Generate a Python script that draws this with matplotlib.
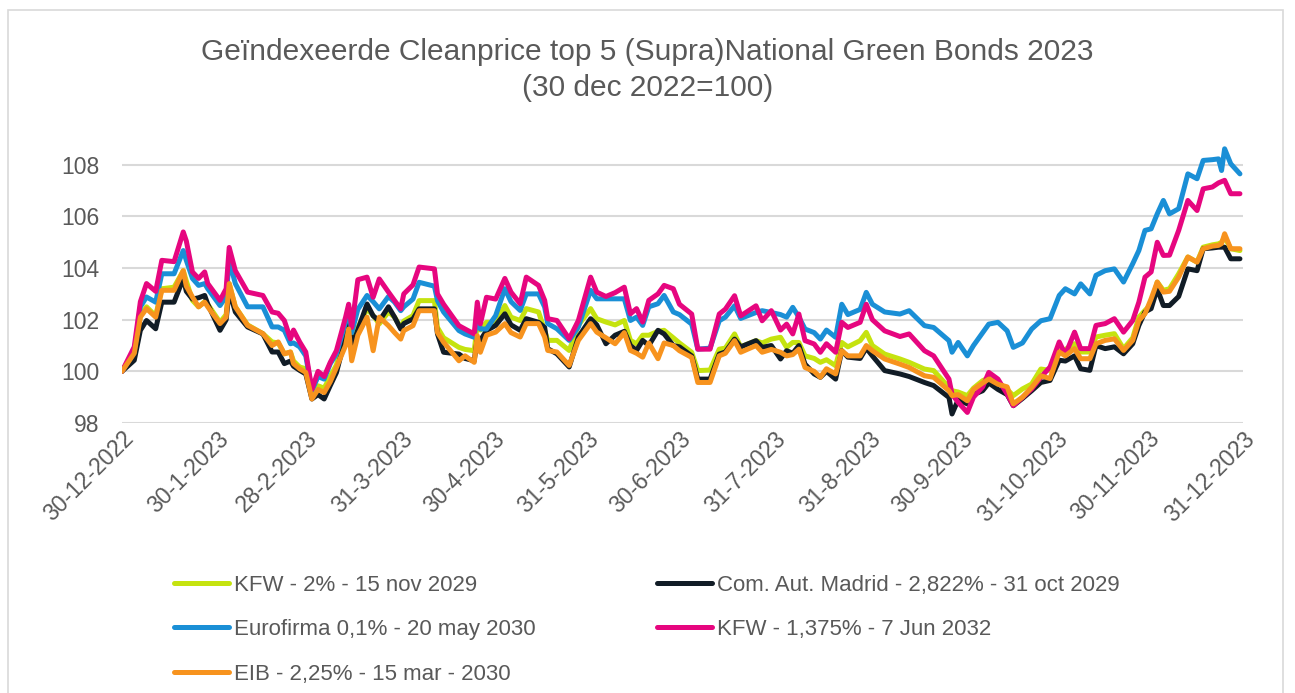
import numpy as np
import matplotlib
matplotlib.use("Agg")
import matplotlib.pyplot as plt
from matplotlib.patches import Rectangle

plt.rcParams['font.family'] = ['Liberation Sans', 'DejaVu Sans']

# day offsets from 30-12-2022 (index date = 100)
days = [0, 4, 6, 8, 11, 13, 17, 20, 21, 23,
        25, 27, 28, 32, 34, 35, 37, 41, 46, 49,
        51, 53, 55, 56, 58, 60, 62, 64, 66, 68,
        70, 73, 74, 75, 77, 80, 82, 84, 87, 89,
        91, 92, 95, 97, 102, 103, 105, 110, 112, 115,
        116, 117, 119, 122, 125, 127, 130, 132, 136, 138,
        139, 142, 146, 149, 153, 155, 158, 161, 164, 166,
        168, 170, 172, 175, 177, 180, 182, 186, 188, 192,
        195, 197, 200, 202, 207, 209, 212, 215, 217, 219,
        221, 223, 226, 228, 230, 233, 235, 237, 241, 243,
        245, 249, 254, 257, 262, 265, 270, 271, 273, 276,
        278, 281, 283, 286, 289, 291, 294, 297, 300, 303,
        306, 308, 311, 313, 316, 318, 321, 324, 327, 330,
        332, 334, 336, 338, 340, 342, 345, 348, 351, 353,
        356, 358, 359, 360, 362, 365]

kfw_2 = [100.0, 100.75, 102.15, 102.5, 102.15, 103.2, 103.26, 103.9, 103.5, 102.75,
         102.5, 102.7, 102.6, 101.9, 102.2, 103.4, 102.5, 101.8, 101.46, 101.14,
         101.1, 100.68, 100.75, 100.4, 100.17, 100.1, 99.0, 99.44, 99.35, 99.8,
         100.25, 101.5, 102.1, 101.0, 101.7, 102.42, 102.16, 101.84, 102.3, 102.1,
         101.7, 101.95, 102.16, 102.74, 102.74, 101.7, 101.3, 100.93, 100.85, 100.8,
         101.84, 101.6, 101.9, 101.9, 102.55, 102.1, 101.97, 102.43, 102.3, 101.59,
         101.2, 101.2, 100.81, 101.78, 102.43, 102.04, 101.91, 101.8, 101.97, 101.2,
         101.07, 101.4, 101.4, 101.55, 101.59, 101.3, 101.1, 100.74, 100.03, 100.05,
         100.86, 100.9, 101.45, 100.95, 101.19, 101.1, 101.25, 101.32, 100.93, 101.12,
         101.12, 100.6, 100.5, 100.35, 100.45, 100.22, 101.12, 100.95, 101.19, 101.51,
         101.0, 100.67, 100.48, 100.35, 100.09, 100.03, 99.38, 99.25, 99.2, 99.06,
         99.35, 99.64, 99.75, 99.55, 99.3, 99.06, 99.32, 99.51, 100.09, 100.04,
         100.75, 100.85, 101.07, 100.75, 100.75, 101.33, 101.4, 101.46, 100.88, 101.3,
         102.1, 102.36, 102.6, 103.46, 103.14, 103.2, 103.78, 104.43, 104.23, 104.81,
         104.9, 104.94, 105.0, 105.2, 104.75, 104.68]

madrid = [100.0, 100.43, 101.59, 101.97, 101.65, 102.68, 102.68, 103.6, 103.1, 102.8,
          102.85, 102.94, 102.6, 101.59, 102.0, 103.14, 102.3, 101.72, 101.45, 100.75,
          100.75, 100.3, 100.4, 100.2, 100.04, 99.9, 98.93, 99.1, 98.93, 99.45,
          99.95, 101.32, 101.9, 101.0, 101.6, 102.61, 102.15, 101.95, 102.5, 102.1,
          101.64, 101.85, 102.03, 102.42, 102.42, 101.45, 100.74, 100.67, 100.5, 100.41,
          101.3, 101.2, 101.58, 101.78, 102.23, 101.8, 101.59, 102.04, 101.9, 101.7,
          100.88, 100.68, 100.17, 101.33, 102.04, 101.8, 101.07, 101.4, 101.55, 101.0,
          100.81, 101.2, 101.0, 101.59, 101.45, 101.0, 100.95, 100.6, 99.7, 99.7,
          100.67, 100.75, 101.25, 100.95, 101.19, 100.93, 101.0, 100.48, 100.8, 100.7,
          101.0, 100.28, 99.9, 99.77, 100.0, 99.7, 100.8, 100.55, 100.5, 100.9,
          100.6, 100.03, 99.9, 99.8, 99.57, 99.45, 98.99, 98.35, 98.9, 98.74,
          99.1, 99.25, 99.55, 99.3, 99.1, 98.67, 98.95, 99.25, 99.57, 99.65,
          100.43, 100.4, 100.6, 100.1, 100.04, 101.0, 100.88, 100.95, 100.68, 101.07,
          101.78, 102.3, 102.43, 103.2, 102.55, 102.55, 102.9, 103.97, 103.9, 104.75,
          104.78, 104.81, 104.81, 104.81, 104.36, 104.36]

eurofirma = [100.0, 100.75, 102.5, 102.88, 102.68, 103.78, 103.78, 104.68, 104.3, 103.6,
             103.33, 103.4, 103.2, 102.55, 102.9, 104.3, 103.4, 102.5, 102.5, 101.72,
             101.72, 101.59, 101.07, 101.1, 100.95, 100.6, 99.25, 99.8, 99.7, 100.3,
             100.67, 101.9, 102.48, 101.5, 102.4, 102.94, 102.7, 102.42, 102.9, 102.68,
             102.35, 102.5, 102.8, 103.45, 103.3, 102.74, 102.3, 101.58, 101.45, 101.32,
             102.22, 101.64, 101.64, 102.16, 103.2, 102.7, 102.36, 103.0, 103.0, 102.49,
             101.85, 101.65, 101.2, 101.72, 103.14, 102.81, 102.81, 102.81, 102.81, 101.97,
             102.1, 101.78, 102.5, 102.62, 102.94, 102.3, 102.2, 101.83, 100.86, 100.9,
             101.96, 102.1, 102.54, 102.05, 102.28, 102.35, 102.28, 102.2, 102.1, 102.48,
             102.1, 101.64, 101.5, 101.25, 101.6, 101.32, 102.6, 102.2, 102.4, 103.06,
             102.6, 102.3, 102.22, 102.35, 101.77, 101.7, 101.19, 100.74, 101.12, 100.6,
             101.0, 101.5, 101.83, 101.9, 101.57, 100.93, 101.1, 101.64, 101.96, 102.04,
             102.94, 103.2, 103.0, 103.39, 103.0, 103.72, 103.9, 103.97, 103.46, 104.17,
             104.68, 105.46, 105.52, 106.1, 106.62, 106.1, 106.3, 107.65, 107.46, 108.17,
             108.2, 108.23, 107.78, 108.62, 108.04, 107.65]

kfw_1375 = [100.0, 100.95, 102.7, 103.4, 103.1, 104.3, 104.25, 105.4, 105.05, 103.85,
            103.6, 103.85, 103.4, 102.75, 103.2, 104.8, 103.9, 103.07, 102.94, 102.3,
            102.25, 101.97, 101.26, 101.6, 101.14, 100.75, 99.3, 100.0, 99.8, 100.35,
            100.8, 102.1, 102.6, 101.7, 103.55, 103.65, 102.87, 103.58, 103.07, 102.74,
            102.42, 103.0, 103.35, 104.04, 103.97, 103.0, 102.6, 101.77, 101.64, 101.45,
            102.68, 101.84, 102.87, 102.8, 103.6, 103.07, 102.62, 103.65, 103.33, 102.75,
            102.04, 101.97, 101.26, 101.97, 103.65, 103.07, 102.9, 103.05, 103.26, 102.23,
            102.43, 101.91, 102.75, 103.0, 103.33, 103.2, 102.6, 102.22, 100.86, 100.86,
            102.22, 102.41, 102.93, 102.15, 102.54, 101.96, 102.35, 101.6, 101.83, 101.45,
            102.22, 101.19, 101.06, 100.74, 101.07, 100.74, 101.9, 101.7, 101.9, 102.6,
            102.0, 101.57, 101.35, 101.45, 100.8, 100.6, 99.7, 99.12, 98.8, 98.41,
            99.0, 99.4, 99.96, 99.7, 99.12, 98.67, 98.99, 99.32, 99.77, 100.17,
            101.14, 100.65, 101.52, 100.88, 100.88, 101.78, 101.85, 102.04, 101.52, 101.97,
            102.68, 103.65, 103.85, 105.0, 104.49, 104.5, 105.46, 106.62, 106.23, 107.07,
            107.14, 107.3, 107.35, 107.4, 106.88, 106.88]

eib = [100.0, 100.7, 102.1, 102.43, 102.1, 103.14, 103.14, 103.9, 103.3, 102.88,
       102.5, 102.68, 102.5, 101.85, 102.1, 103.4, 102.5, 101.78, 101.46, 101.0,
       101.14, 100.68, 100.75, 100.3, 100.1, 99.96, 98.93, 99.3, 99.18, 99.6,
       100.15, 101.0, 101.64, 100.41, 101.4, 102.1, 100.8, 102.1, 101.77, 101.5,
       101.25, 101.58, 101.77, 102.35, 102.35, 101.5, 101.13, 100.41, 100.6, 100.35,
       101.38, 100.74, 101.4, 101.52, 101.85, 101.5, 101.33, 101.85, 101.85, 101.33,
       100.81, 100.75, 100.23, 101.2, 101.85, 101.52, 101.3, 101.07, 101.5, 100.81,
       100.7, 100.55, 101.1, 100.49, 101.1, 101.0, 100.8, 100.54, 99.57, 99.57,
       100.6, 100.7, 101.19, 100.74, 101.0, 100.74, 100.85, 100.74, 100.6, 100.65,
       100.86, 100.15, 100.0, 99.77, 100.1, 99.9, 100.8, 100.6, 100.6, 101.0,
       100.8, 100.48, 100.28, 100.15, 99.83, 99.77, 99.25, 99.06, 99.1, 98.86,
       99.3, 99.55, 99.7, 99.5, 99.4, 98.74, 99.0, 99.38, 99.83, 99.72,
       100.75, 100.6, 100.88, 100.49, 100.49, 101.07, 101.2, 101.26, 100.81, 101.2,
       101.97, 102.23, 102.81, 103.46, 103.07, 103.1, 103.65, 104.43, 104.23, 104.75,
       104.85, 104.88, 104.95, 105.33, 104.75, 104.75]

series_names = ['KFW - 2% - 15 nov 2029',
                'Com. Aut. Madrid - 2,822% - 31 oct 2029',
                'Eurofirma 0,1% - 20 may 2030',
                'KFW - 1,375% - 7 Jun 2032',
                'EIB - 2,25% - 15 mar - 2030']
series_colors = ['#C5E30F', '#111C26', '#1A8FD6', '#E6067F', '#F7931E']

tick_dates = ['2022-12-30', '2023-01-30', '2023-02-28', '2023-03-31', '2023-04-30',
              '2023-05-31', '2023-06-30', '2023-07-31', '2023-08-31', '2023-09-30',
              '2023-10-31', '2023-11-30', '2023-12-31']
tick_labels = ['30-12-2022', '30-1-2023', '28-2-2023', '31-3-2023', '30-4-2023',
               '31-5-2023', '30-6-2023', '31-7-2023', '31-8-2023', '30-9-2023',
               '31-10-2023', '30-11-2023', '31-12-2023']

grey = '#595959'
W, H = 1295, 693
fig = plt.figure(figsize=(W / 100, H / 100), dpi=100)
ax = fig.add_axes([122 / W, 1 - 423 / H, (1243 - 122) / W, (423 - 139) / H])

dates = np.datetime64('2022-12-30') + np.array(days).astype('timedelta64[D]')
all_series = [kfw_2, madrid, eurofirma, kfw_1375, eib]
lines = []
for vals, name, col in zip(all_series, series_names, series_colors):
    ln, = ax.plot(dates, vals, color=col, lw=3.6, label=name,
                  solid_joinstyle='round', solid_capstyle='round')
    lines.append(ln)

ax.set_xlim(np.datetime64('2022-12-30'), np.datetime64('2023-12-31'))
ax.set_ylim(98, 109)
ax.set_yticks([98, 100, 102, 104, 106, 108])
ax.set_xticks(np.array(tick_dates, dtype='datetime64[D]'))
ax.set_xticklabels(tick_labels, rotation=45, ha='right', rotation_mode='anchor')
ax.tick_params(length=0, colors=grey, labelsize=16.5)
ax.tick_params(axis='y', pad=16)
ax.tick_params(axis='x', pad=3)
ax.grid(axis='y', color='#d9d9d9', lw=1.5)
ax.set_axisbelow(True)
for s in ax.spines.values():
    s.set_visible(False)

fig.text(0.5, 1 - 70 / H, 'Geïndexeerde Cleanprice top 5 (Supra)National Green Bonds 2023\n(30 dec 2022=100)',
         ha='center', va='center', fontsize=21.5, color=grey, linespacing=1.32)

leg_kw = dict(loc='upper left', frameon=False, fontsize=16, labelcolor=grey,
              handlelength=2.5, handletextpad=0.2, labelspacing=1.05, borderaxespad=0)
leg1 = fig.legend([lines[0], lines[2], lines[4]], [series_names[0], series_names[2], series_names[4]],
                  bbox_to_anchor=(165 / W, 1 - 566 / H), **leg_kw)
leg2 = fig.legend([lines[1], lines[3]], [series_names[1], series_names[3]],
                  bbox_to_anchor=(648 / W, 1 - 566 / H), **leg_kw)

fig.patches.append(Rectangle((8 / W, -0.05), 1275 / W, 1.05 - 10 / H, transform=fig.transFigure,
                             fill=False, edgecolor='#d9d9d9', lw=1.2))

fig.savefig('out.png', dpi=100)
